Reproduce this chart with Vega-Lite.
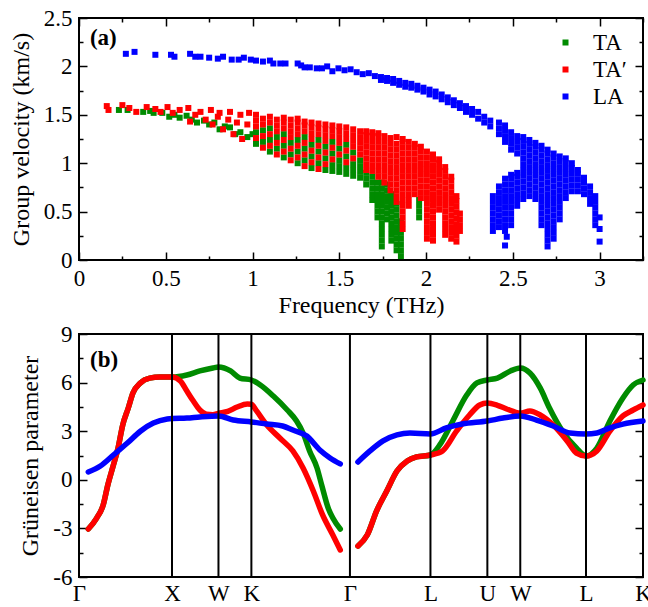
{
"$schema":"https://vega.github.io/schema/vega-lite/v6.json",
"padding":{"left":8,"top":6,"right":0,"bottom":0},
"spacing":4,
"background":"white",
"config":{"font":"Liberation Serif","view":{"stroke":"black","strokeWidth":2},
"axis":{"domain":false,"grid":false,"tickColor":"black","tickWidth":1.5,"labelFont":"Liberation Serif","labelFontSize":23,"labelColor":"black","titleFont":"Liberation Serif","titleFontSize":24,"titleFontWeight":"normal","titleColor":"black","labelFlush":false,"labelOverlap":false},
"legend":{"labelFont":"Liberation Serif"},"text":{"font":"Liberation Serif"}},
"datasets":{
"ta":[
{"f":0.23,"v":1.55},{"f":0.28,"v":1.55},{"f":0.37,"v":1.53},{"f":0.41,"v":1.54},{"f":0.43,"v":1.52},{"f":0.48,"v":1.52},{"f":0.52,"v":1.48},{"f":0.55,"v":1.5},{"f":0.58,"v":1.47},{"f":0.62,"v":1.49},{"f":0.65,"v":1.45},{"f":0.68,"v":1.42},{"f":0.72,"v":1.44},{"f":0.75,"v":1.4},{"f":0.78,"v":1.42},{"f":0.81,"v":1.35},{"f":0.84,"v":1.38},{"f":0.87,"v":1.37},{"f":0.9,"v":1.3},{"f":0.93,"v":1.32},{"f":0.97,"v":1.27},{"f":1,"v":1.3},
{"f":1.02,"v":1.2},{"f":1.02,"v":1.32},
{"f":1.06,"v":1.22},{"f":1.06,"v":1.34},
{"f":1.1,"v":1.12},{"f":1.1,"v":1.24},{"f":1.1,"v":1.36},
{"f":1.14,"v":1.15},{"f":1.14,"v":1.27},
{"f":1.18,"v":1.06},{"f":1.18,"v":1.18},{"f":1.18,"v":1.3},
{"f":1.22,"v":1.09},{"f":1.22,"v":1.21},
{"f":1.26,"v":1.0},{"f":1.26,"v":1.12},{"f":1.26,"v":1.24},
{"f":1.3,"v":1.03},{"f":1.3,"v":1.15},{"f":1.3,"v":1.27},
{"f":1.34,"v":0.95},{"f":1.34,"v":1.07},{"f":1.34,"v":1.19},
{"f":1.38,"v":1.0},{"f":1.38,"v":1.12},{"f":1.38,"v":1.24},
{"f":1.42,"v":0.93},{"f":1.42,"v":1.05},{"f":1.42,"v":1.17},
{"f":1.46,"v":0.92},{"f":1.46,"v":0.98},{"f":1.46,"v":1.1},{"f":1.46,"v":1.22},
{"f":1.5,"v":0.91},{"f":1.5,"v":0.97},{"f":1.5,"v":1.03},{"f":1.5,"v":1.15},
{"f":1.54,"v":0.89},{"f":1.54,"v":0.95},{"f":1.54,"v":1.07},{"f":1.54,"v":1.19},
{"f":1.58,"v":0.87},{"f":1.58,"v":0.93},{"f":1.58,"v":0.99},{"f":1.58,"v":1.11},
{"f":1.62,"v":0.85},{"f":1.62,"v":0.91},{"f":1.62,"v":0.97},{"f":1.62,"v":1.03},
{"f":1.655,"v":0.78},{"f":1.655,"v":0.84},{"f":1.655,"v":0.9},
{"f":1.69,"v":0.62},{"f":1.69,"v":0.68},{"f":1.69,"v":0.74},{"f":1.69,"v":0.8},{"f":1.69,"v":0.86},
{"f":1.72,"v":0.44},{"f":1.72,"v":0.5},{"f":1.72,"v":0.56},{"f":1.72,"v":0.62},{"f":1.72,"v":0.68},{"f":1.72,"v":0.74},{"f":1.72,"v":0.8},
{"f":1.745,"v":0.14},{"f":1.745,"v":0.2},{"f":1.745,"v":0.26},{"f":1.745,"v":0.32},{"f":1.745,"v":0.38},{"f":1.745,"v":0.44},{"f":1.745,"v":0.5},{"f":1.745,"v":0.56},{"f":1.745,"v":0.62},{"f":1.745,"v":0.68},{"f":1.745,"v":0.74},{"f":1.745,"v":0.8},
{"f":1.775,"v":0.42},{"f":1.775,"v":0.48},{"f":1.775,"v":0.54},{"f":1.775,"v":0.6},{"f":1.775,"v":0.66},{"f":1.775,"v":0.72},{"f":1.775,"v":0.78},
{"f":1.8,"v":0.2},{"f":1.8,"v":0.26},{"f":1.8,"v":0.32},{"f":1.8,"v":0.38},{"f":1.8,"v":0.44},{"f":1.8,"v":0.5},{"f":1.8,"v":0.56},{"f":1.8,"v":0.62},{"f":1.8,"v":0.68},
{"f":1.83,"v":0.1},{"f":1.83,"v":0.16},{"f":1.83,"v":0.22},{"f":1.83,"v":0.28},{"f":1.83,"v":0.34},{"f":1.83,"v":0.4},{"f":1.83,"v":0.46},{"f":1.83,"v":0.52},{"f":1.83,"v":0.58},
{"f":1.855,"v":0.04},{"f":1.855,"v":0.1},{"f":1.855,"v":0.16},{"f":1.855,"v":0.22},{"f":1.855,"v":0.28},{"f":1.855,"v":0.34},{"f":1.855,"v":0.4},
{"f":1.96,"v":0.44},{"f":1.96,"v":0.5},{"f":1.96,"v":0.56},{"f":1.96,"v":0.62}
],
"tap":[
{"f":0.16,"v":1.59},{"f":0.17,"v":1.55},{"f":0.25,"v":1.6},{"f":0.29,"v":1.57},{"f":0.33,"v":1.53},{"f":0.39,"v":1.58},{"f":0.44,"v":1.56},{"f":0.47,"v":1.53},{"f":0.51,"v":1.58},{"f":0.54,"v":1.52},{"f":0.58,"v":1.55},{"f":0.63,"v":1.57},{"f":0.64,"v":1.43},{"f":0.67,"v":1.5},{"f":0.7,"v":1.53},{"f":0.73,"v":1.45},{"f":0.76,"v":1.55},{"f":0.77,"v":1.4},{"f":0.8,"v":1.48},{"f":0.81,"v":1.52},{"f":0.83,"v":1.35},{"f":0.86,"v":1.45},{"f":0.87,"v":1.53},{"f":0.89,"v":1.3},{"f":0.91,"v":1.42},{"f":0.93,"v":1.5},{"f":0.94,"v":1.25},{"f":0.97,"v":1.4},{"f":0.98,"v":1.52},
{"f":1.02,"v":1.26},{"f":1.02,"v":1.38},{"f":1.02,"v":1.44},{"f":1.02,"v":1.5},
{"f":1.06,"v":1.16},{"f":1.06,"v":1.28},{"f":1.06,"v":1.4},{"f":1.06,"v":1.46},
{"f":1.1,"v":1.18},{"f":1.1,"v":1.3},{"f":1.1,"v":1.42},{"f":1.1,"v":1.48},
{"f":1.14,"v":1.09},{"f":1.14,"v":1.21},{"f":1.14,"v":1.33},{"f":1.14,"v":1.39},{"f":1.14,"v":1.45},
{"f":1.18,"v":1.12},{"f":1.18,"v":1.24},{"f":1.18,"v":1.36},{"f":1.18,"v":1.42},{"f":1.18,"v":1.47},
{"f":1.22,"v":1.03},{"f":1.22,"v":1.15},{"f":1.22,"v":1.27},{"f":1.22,"v":1.33},{"f":1.22,"v":1.39},{"f":1.22,"v":1.45},
{"f":1.26,"v":1.06},{"f":1.26,"v":1.18},{"f":1.26,"v":1.3},{"f":1.26,"v":1.36},{"f":1.26,"v":1.42},{"f":1.26,"v":1.46},
{"f":1.3,"v":0.97},{"f":1.3,"v":1.09},{"f":1.3,"v":1.21},{"f":1.3,"v":1.33},{"f":1.3,"v":1.39},{"f":1.3,"v":1.43},
{"f":1.34,"v":1.01},{"f":1.34,"v":1.13},{"f":1.34,"v":1.25},{"f":1.34,"v":1.31},{"f":1.34,"v":1.37},{"f":1.34,"v":1.42},
{"f":1.38,"v":0.94},{"f":1.38,"v":1.06},{"f":1.38,"v":1.18},{"f":1.38,"v":1.3},{"f":1.38,"v":1.36},{"f":1.38,"v":1.41},
{"f":1.42,"v":0.99},{"f":1.42,"v":1.11},{"f":1.42,"v":1.23},{"f":1.42,"v":1.29},{"f":1.42,"v":1.35},{"f":1.42,"v":1.4},
{"f":1.46,"v":1.04},{"f":1.46,"v":1.16},{"f":1.46,"v":1.28},{"f":1.46,"v":1.34},{"f":1.46,"v":1.39},
{"f":1.5,"v":1.09},{"f":1.5,"v":1.21},{"f":1.5,"v":1.27},{"f":1.5,"v":1.33},{"f":1.5,"v":1.38},
{"f":1.54,"v":1.01},{"f":1.54,"v":1.13},{"f":1.54,"v":1.25},{"f":1.54,"v":1.31},{"f":1.54,"v":1.37},
{"f":1.58,"v":1.05},{"f":1.58,"v":1.17},{"f":1.58,"v":1.23},{"f":1.58,"v":1.29},{"f":1.58,"v":1.35},
{"f":1.62,"v":1.09},{"f":1.62,"v":1.15},{"f":1.62,"v":1.21},{"f":1.62,"v":1.27},{"f":1.62,"v":1.33},
{"f":1.655,"v":0.93},{"f":1.655,"v":0.99},{"f":1.655,"v":1.05},{"f":1.655,"v":1.11},{"f":1.655,"v":1.17},{"f":1.655,"v":1.23},{"f":1.655,"v":1.29},{"f":1.655,"v":1.33},
{"f":1.69,"v":0.92},{"f":1.69,"v":0.98},{"f":1.69,"v":1.04},{"f":1.69,"v":1.1},{"f":1.69,"v":1.16},{"f":1.69,"v":1.22},{"f":1.69,"v":1.28},{"f":1.69,"v":1.32},
{"f":1.725,"v":0.86},{"f":1.725,"v":0.92},{"f":1.725,"v":0.98},{"f":1.725,"v":1.04},{"f":1.725,"v":1.1},{"f":1.725,"v":1.16},{"f":1.725,"v":1.22},{"f":1.725,"v":1.28},{"f":1.725,"v":1.31},
{"f":1.76,"v":0.8},{"f":1.76,"v":0.86},{"f":1.76,"v":0.92},{"f":1.76,"v":0.98},{"f":1.76,"v":1.04},{"f":1.76,"v":1.1},{"f":1.76,"v":1.16},{"f":1.76,"v":1.22},{"f":1.76,"v":1.28},
{"f":1.795,"v":0.72},{"f":1.795,"v":0.78},{"f":1.795,"v":0.84},{"f":1.795,"v":0.9},{"f":1.795,"v":0.96},{"f":1.795,"v":1.02},{"f":1.795,"v":1.08},{"f":1.795,"v":1.14},{"f":1.795,"v":1.2},{"f":1.795,"v":1.26},
{"f":1.83,"v":0.6},{"f":1.83,"v":0.66},{"f":1.83,"v":0.72},{"f":1.83,"v":0.78},{"f":1.83,"v":0.84},{"f":1.83,"v":0.9},{"f":1.83,"v":0.96},{"f":1.83,"v":1.02},{"f":1.83,"v":1.08},{"f":1.83,"v":1.14},{"f":1.83,"v":1.2},{"f":1.83,"v":1.27},
{"f":1.865,"v":0.32},{"f":1.865,"v":0.38},{"f":1.865,"v":0.44},{"f":1.865,"v":0.5},{"f":1.865,"v":0.56},{"f":1.865,"v":0.62},{"f":1.865,"v":0.68},{"f":1.865,"v":0.74},{"f":1.865,"v":0.8},{"f":1.865,"v":0.86},{"f":1.865,"v":0.92},{"f":1.865,"v":0.98},{"f":1.865,"v":1.04},{"f":1.865,"v":1.1},{"f":1.865,"v":1.16},{"f":1.865,"v":1.22},{"f":1.865,"v":1.25},
{"f":1.9,"v":0.56},{"f":1.9,"v":0.62},{"f":1.9,"v":0.68},{"f":1.9,"v":0.74},{"f":1.9,"v":0.8},{"f":1.9,"v":0.86},{"f":1.9,"v":0.92},{"f":1.9,"v":0.98},{"f":1.9,"v":1.04},{"f":1.9,"v":1.1},{"f":1.9,"v":1.16},{"f":1.9,"v":1.22},
{"f":1.935,"v":0.68},{"f":1.935,"v":0.74},{"f":1.935,"v":0.8},{"f":1.935,"v":0.86},{"f":1.935,"v":0.92},{"f":1.935,"v":0.98},{"f":1.935,"v":1.04},{"f":1.935,"v":1.1},{"f":1.935,"v":1.16},{"f":1.935,"v":1.2},
{"f":1.97,"v":0.64},{"f":1.97,"v":0.7},{"f":1.97,"v":0.76},{"f":1.97,"v":0.82},{"f":1.97,"v":0.88},{"f":1.97,"v":0.94},{"f":1.97,"v":1.0},{"f":1.97,"v":1.06},{"f":1.97,"v":1.12},{"f":1.97,"v":1.17},
{"f":2.005,"v":0.22},{"f":2.005,"v":0.28},{"f":2.005,"v":0.34},{"f":2.005,"v":0.4},{"f":2.005,"v":0.46},{"f":2.005,"v":0.52},{"f":2.005,"v":0.58},{"f":2.005,"v":0.64},{"f":2.005,"v":0.7},{"f":2.005,"v":0.76},{"f":2.005,"v":0.82},{"f":2.005,"v":0.88},{"f":2.005,"v":0.94},{"f":2.005,"v":1.0},{"f":2.005,"v":1.06},{"f":2.005,"v":1.12},
{"f":2.04,"v":0.2},{"f":2.04,"v":0.26},{"f":2.04,"v":0.32},{"f":2.04,"v":0.38},{"f":2.04,"v":0.44},{"f":2.04,"v":0.5},{"f":2.04,"v":0.56},{"f":2.04,"v":0.62},{"f":2.04,"v":0.68},{"f":2.04,"v":0.74},{"f":2.04,"v":0.8},{"f":2.04,"v":0.86},{"f":2.04,"v":0.92},{"f":2.04,"v":0.98},{"f":2.04,"v":1.04},{"f":2.04,"v":1.09},
{"f":2.075,"v":0.52},{"f":2.075,"v":0.58},{"f":2.075,"v":0.64},{"f":2.075,"v":0.7},{"f":2.075,"v":0.76},{"f":2.075,"v":0.82},{"f":2.075,"v":0.88},{"f":2.075,"v":0.94},{"f":2.075,"v":1.0},{"f":2.075,"v":1.04},
{"f":2.11,"v":0.26},{"f":2.11,"v":0.32},{"f":2.11,"v":0.38},{"f":2.11,"v":0.44},{"f":2.11,"v":0.5},{"f":2.11,"v":0.56},{"f":2.11,"v":0.62},{"f":2.11,"v":0.68},{"f":2.11,"v":0.74},{"f":2.11,"v":0.8},{"f":2.11,"v":0.86},{"f":2.11,"v":0.92},{"f":2.11,"v":0.96},
{"f":2.145,"v":0.22},{"f":2.145,"v":0.28},{"f":2.145,"v":0.34},{"f":2.145,"v":0.4},{"f":2.145,"v":0.46},{"f":2.145,"v":0.52},{"f":2.145,"v":0.58},{"f":2.145,"v":0.64},{"f":2.145,"v":0.7},{"f":2.145,"v":0.76},{"f":2.145,"v":0.82},{"f":2.145,"v":0.86},
{"f":2.175,"v":0.19},{"f":2.175,"v":0.25},{"f":2.175,"v":0.31},{"f":2.175,"v":0.37},{"f":2.175,"v":0.43},{"f":2.175,"v":0.49},{"f":2.175,"v":0.55},{"f":2.175,"v":0.61},{"f":2.175,"v":0.66},
{"f":2.195,"v":0.3},{"f":2.195,"v":0.36},{"f":2.195,"v":0.42},{"f":2.195,"v":0.48}
],
"la":[
{"f":0.27,"v":2.13},{"f":0.32,"v":2.15},{"f":0.44,"v":2.12},{"f":0.53,"v":2.12},{"f":0.55,"v":2.1},{"f":0.64,"v":2.13},{"f":0.67,"v":2.1},{"f":0.7,"v":2.1},{"f":0.75,"v":2.09},{"f":0.8,"v":2.08},{"f":0.83,"v":2.1},{"f":0.88,"v":2.07},{"f":0.92,"v":2.07},{"f":0.95,"v":2.09},{"f":0.99,"v":2.07},{"f":1.02,"v":2.06},{"f":1.06,"v":2.05},{"f":1.1,"v":2.06},{"f":1.12,"v":2.03},{"f":1.16,"v":2.03},{"f":1.19,"v":2.03},{"f":1.26,"v":2.03},{"f":1.28,"v":2.01},{"f":1.3,"v":1.99},{"f":1.33,"v":1.99},{"f":1.37,"v":1.98},{"f":1.4,"v":1.98},{"f":1.43,"v":2.0},
{"f":1.46,"v":1.95},{"f":1.495,"v":1.98},{"f":1.53,"v":1.96},{"f":1.565,"v":1.97},{"f":1.6,"v":1.94},{"f":1.635,"v":1.92},{"f":1.67,"v":1.93},{"f":1.705,"v":1.9},
{"f":1.74,"v":1.89},{"f":1.74,"v":1.86},{"f":1.775,"v":1.88},{"f":1.775,"v":1.85},{"f":1.81,"v":1.87},{"f":1.81,"v":1.83},{"f":1.845,"v":1.85},{"f":1.845,"v":1.81},{"f":1.88,"v":1.83},{"f":1.88,"v":1.79},{"f":1.915,"v":1.82},{"f":1.915,"v":1.78},{"f":1.95,"v":1.8},{"f":1.95,"v":1.76},{"f":1.985,"v":1.78},{"f":1.985,"v":1.74},{"f":2.02,"v":1.76},{"f":2.02,"v":1.71},{"f":2.055,"v":1.74},{"f":2.055,"v":1.69},{"f":2.09,"v":1.71},{"f":2.09,"v":1.66},{"f":2.125,"v":1.68},{"f":2.125,"v":1.63},{"f":2.16,"v":1.65},{"f":2.16,"v":1.6},{"f":2.195,"v":1.62},{"f":2.195,"v":1.57},{"f":2.23,"v":1.59},{"f":2.23,"v":1.53},{"f":2.265,"v":1.56},{"f":2.265,"v":1.5},{"f":2.3,"v":1.53},{"f":2.3,"v":1.46},
{"f":2.335,"v":1.42},{"f":2.335,"v":1.48},{"f":2.37,"v":1.38},{"f":2.37,"v":1.44},
{"f":2.385,"v":0.3},{"f":2.385,"v":0.36},{"f":2.385,"v":0.42},{"f":2.385,"v":0.48},{"f":2.385,"v":0.54},{"f":2.385,"v":0.6},{"f":2.385,"v":0.66},
{"f":2.42,"v":0.34},{"f":2.42,"v":0.4},{"f":2.42,"v":0.46},{"f":2.42,"v":0.52},{"f":2.42,"v":0.58},{"f":2.42,"v":0.64},{"f":2.42,"v":0.7},{"f":2.42,"v":0.76},{"f":2.42,"v":1.3},{"f":2.42,"v":1.36},{"f":2.42,"v":1.42},
{"f":2.455,"v":0.15},{"f":2.465,"v":0.24},{"f":2.455,"v":0.3},{"f":2.455,"v":0.36},{"f":2.455,"v":0.42},{"f":2.455,"v":0.48},{"f":2.455,"v":0.54},{"f":2.455,"v":0.6},{"f":2.455,"v":0.66},{"f":2.455,"v":0.72},{"f":2.455,"v":0.78},{"f":2.455,"v":0.84},{"f":2.455,"v":1.22},{"f":2.455,"v":1.28},{"f":2.455,"v":1.34},{"f":2.455,"v":1.39},
{"f":2.49,"v":0.36},{"f":2.49,"v":0.42},{"f":2.49,"v":0.48},{"f":2.49,"v":0.54},{"f":2.49,"v":0.6},{"f":2.49,"v":0.66},{"f":2.49,"v":0.72},{"f":2.49,"v":0.78},{"f":2.49,"v":0.84},{"f":2.49,"v":0.88},{"f":2.49,"v":1.14},{"f":2.49,"v":1.2},{"f":2.49,"v":1.26},{"f":2.49,"v":1.32},
{"f":2.525,"v":0.56},{"f":2.525,"v":0.62},{"f":2.525,"v":0.68},{"f":2.525,"v":0.74},{"f":2.525,"v":0.8},{"f":2.525,"v":0.86},{"f":2.525,"v":0.9},{"f":2.525,"v":1.1},{"f":2.525,"v":1.16},{"f":2.525,"v":1.22},{"f":2.525,"v":1.28},
{"f":2.56,"v":0.63},{"f":2.56,"v":0.69},{"f":2.56,"v":0.75},{"f":2.56,"v":0.81},{"f":2.56,"v":0.87},{"f":2.56,"v":0.93},{"f":2.56,"v":0.99},{"f":2.56,"v":1.05},{"f":2.56,"v":1.11},{"f":2.56,"v":1.17},{"f":2.56,"v":1.23},{"f":2.56,"v":1.27},
{"f":2.595,"v":0.66},{"f":2.595,"v":0.72},{"f":2.595,"v":0.78},{"f":2.595,"v":0.84},{"f":2.595,"v":0.9},{"f":2.595,"v":0.96},{"f":2.595,"v":1.02},{"f":2.595,"v":1.08},{"f":2.595,"v":1.14},{"f":2.595,"v":1.2},{"f":2.595,"v":1.24},
{"f":2.63,"v":0.63},{"f":2.63,"v":0.69},{"f":2.63,"v":0.75},{"f":2.63,"v":0.81},{"f":2.63,"v":0.87},{"f":2.63,"v":0.93},{"f":2.63,"v":0.99},{"f":2.63,"v":1.05},{"f":2.63,"v":1.11},{"f":2.63,"v":1.17},{"f":2.63,"v":1.21},
{"f":2.665,"v":0.36},{"f":2.665,"v":0.42},{"f":2.665,"v":0.48},{"f":2.665,"v":0.54},{"f":2.665,"v":0.6},{"f":2.665,"v":0.66},{"f":2.665,"v":0.72},{"f":2.665,"v":0.78},{"f":2.665,"v":0.84},{"f":2.665,"v":0.9},{"f":2.665,"v":0.96},{"f":2.665,"v":1.02},{"f":2.665,"v":1.08},{"f":2.665,"v":1.14},{"f":2.665,"v":1.18},
{"f":2.7,"v":0.14},{"f":2.7,"v":0.2},{"f":2.7,"v":0.26},{"f":2.7,"v":0.32},{"f":2.7,"v":0.38},{"f":2.7,"v":0.44},{"f":2.7,"v":0.5},{"f":2.7,"v":0.56},{"f":2.7,"v":0.62},{"f":2.7,"v":0.68},{"f":2.7,"v":0.74},{"f":2.7,"v":0.8},{"f":2.7,"v":0.86},{"f":2.7,"v":0.92},{"f":2.7,"v":0.98},{"f":2.7,"v":1.04},{"f":2.7,"v":1.1},{"f":2.7,"v":1.14},
{"f":2.735,"v":0.22},{"f":2.735,"v":0.28},{"f":2.735,"v":0.34},{"f":2.735,"v":0.4},{"f":2.735,"v":0.46},{"f":2.735,"v":0.52},{"f":2.735,"v":0.58},{"f":2.735,"v":0.64},{"f":2.735,"v":0.7},{"f":2.735,"v":0.76},{"f":2.735,"v":0.82},{"f":2.735,"v":0.88},{"f":2.735,"v":0.94},{"f":2.735,"v":1.0},{"f":2.735,"v":1.06},{"f":2.735,"v":1.1},
{"f":2.77,"v":0.42},{"f":2.77,"v":0.48},{"f":2.77,"v":0.54},{"f":2.77,"v":0.6},{"f":2.77,"v":0.66},{"f":2.77,"v":0.72},{"f":2.77,"v":0.78},{"f":2.77,"v":0.84},{"f":2.77,"v":0.9},{"f":2.77,"v":0.96},{"f":2.77,"v":1.02},{"f":2.77,"v":1.07},
{"f":2.805,"v":0.64},{"f":2.805,"v":0.7},{"f":2.805,"v":0.76},{"f":2.805,"v":0.82},{"f":2.805,"v":0.88},{"f":2.805,"v":0.94},{"f":2.805,"v":1.0},{"f":2.805,"v":1.05},
{"f":2.84,"v":0.71},{"f":2.84,"v":0.77},{"f":2.84,"v":0.83},{"f":2.84,"v":0.89},{"f":2.84,"v":0.95},{"f":2.84,"v":1.0},
{"f":2.875,"v":0.71},{"f":2.875,"v":0.77},{"f":2.875,"v":0.83},{"f":2.875,"v":0.89},{"f":2.875,"v":0.93},
{"f":2.91,"v":0.68},{"f":2.91,"v":0.74},{"f":2.91,"v":0.8},{"f":2.91,"v":0.85},
{"f":2.945,"v":0.58},{"f":2.945,"v":0.64},{"f":2.945,"v":0.7},{"f":2.945,"v":0.76},
{"f":2.975,"v":0.36},{"f":2.975,"v":0.42},{"f":2.975,"v":0.48},{"f":2.975,"v":0.54},{"f":2.975,"v":0.6},{"f":2.975,"v":0.66},
{"f":3.0,"v":0.19},{"f":3.0,"v":0.32},{"f":3.0,"v":0.44}
],
"gr":[
{"d":0.1,"g":-3.04,"m":"TA","s":1},{"d":0.19,"g":-2.36,"m":"TA","s":1},{"d":0.26,"g":-1.56,"m":"TA","s":1},{"d":0.31,"g":-0.32,"m":"TA","s":1},{"d":0.37,"g":0.91,"m":"TA","s":1},{"d":0.42,"g":1.96,"m":"TA","s":1},{"d":0.47,"g":3.38,"m":"TA","s":1},{"d":0.53,"g":4.43,"m":"TA","s":1},{"d":0.58,"g":5.36,"m":"TA","s":1},{"d":0.66,"g":5.98,"m":"TA","s":1},{"d":0.76,"g":6.28,"m":"TA","s":1},{"d":0.87,"g":6.35,"m":"TA","s":1},{"d":1.0,"g":6.34,"m":"TA","s":1},{"d":1.16,"g":6.47,"m":"TA","s":1},{"d":1.3,"g":6.72,"m":"TA","s":1},{"d":1.44,"g":6.9,"m":"TA","s":1},{"d":1.5,"g":6.96,"m":"TA","s":1},{"d":1.63,"g":6.72,"m":"TA","s":1},{"d":1.73,"g":6.28,"m":"TA","s":1},{"d":1.854,"g":6.16,"m":"TA","s":1},{"d":1.95,"g":5.85,"m":"TA","s":1},{"d":2.09,"g":5.17,"m":"TA","s":1},{"d":2.24,"g":4.31,"m":"TA","s":1},{"d":2.34,"g":3.63,"m":"TA","s":1},{"d":2.41,"g":2.89,"m":"TA","s":1},{"d":2.48,"g":1.78,"m":"TA","s":1},{"d":2.56,"g":0.73,"m":"TA","s":1},{"d":2.61,"g":-0.32,"m":"TA","s":1},{"d":2.68,"g":-1.74,"m":"TA","s":1},{"d":2.73,"g":-2.36,"m":"TA","s":1},{"d":2.81,"g":-3.04,"m":"TA","s":1},
{"d":3.0,"g":-4.09,"m":"TA","s":2},{"d":3.1,"g":-3.41,"m":"TA","s":2},{"d":3.2,"g":-1.93,"m":"TA","s":2},{"d":3.31,"g":-0.69,"m":"TA","s":2},{"d":3.42,"g":0.54,"m":"TA","s":2},{"d":3.53,"g":1.16,"m":"TA","s":2},{"d":3.63,"g":1.41,"m":"TA","s":2},{"d":3.78,"g":1.53,"m":"TA","s":2},{"d":3.88,"g":2.15,"m":"TA","s":2},{"d":4.02,"g":3.63,"m":"TA","s":2},{"d":4.17,"g":5.23,"m":"TA","s":2},{"d":4.28,"g":5.98,"m":"TA","s":2},{"d":4.392,"g":6.16,"m":"TA","s":2},{"d":4.5,"g":6.28,"m":"TA","s":2},{"d":4.64,"g":6.72,"m":"TA","s":2},{"d":4.746,"g":6.9,"m":"TA","s":2},{"d":4.85,"g":6.59,"m":"TA","s":2},{"d":4.96,"g":5.67,"m":"TA","s":2},{"d":5.06,"g":4.43,"m":"TA","s":2},{"d":5.2,"g":3.0,"m":"TA","s":2},{"d":5.35,"g":1.96,"m":"TA","s":2},{"d":5.453,"g":1.47,"m":"TA","s":2},{"d":5.57,"g":1.96,"m":"TA","s":2},{"d":5.71,"g":3.63,"m":"TA","s":2},{"d":5.85,"g":5.05,"m":"TA","s":2},{"d":5.96,"g":5.85,"m":"TA","s":2},{"d":6.066,"g":6.16,"m":"TA","s":2},
{"d":0.1,"g":-3.04,"m":"TA′","s":1},{"d":0.19,"g":-2.36,"m":"TA′","s":1},{"d":0.26,"g":-1.56,"m":"TA′","s":1},{"d":0.31,"g":-0.32,"m":"TA′","s":1},{"d":0.37,"g":0.91,"m":"TA′","s":1},{"d":0.42,"g":1.96,"m":"TA′","s":1},{"d":0.47,"g":3.38,"m":"TA′","s":1},{"d":0.53,"g":4.43,"m":"TA′","s":1},{"d":0.58,"g":5.36,"m":"TA′","s":1},{"d":0.66,"g":5.98,"m":"TA′","s":1},{"d":0.76,"g":6.28,"m":"TA′","s":1},{"d":0.87,"g":6.35,"m":"TA′","s":1},{"d":1.0,"g":6.34,"m":"TA′","s":1},{"d":1.09,"g":6.1,"m":"TA′","s":1},{"d":1.16,"g":5.48,"m":"TA′","s":1},{"d":1.23,"g":4.86,"m":"TA′","s":1},{"d":1.3,"g":4.31,"m":"TA′","s":1},{"d":1.37,"g":4.05,"m":"TA′","s":1},{"d":1.44,"g":4.02,"m":"TA′","s":1},{"d":1.5,"g":4.1,"m":"TA′","s":1},{"d":1.6,"g":4.22,"m":"TA′","s":1},{"d":1.7,"g":4.49,"m":"TA′","s":1},{"d":1.81,"g":4.68,"m":"TA′","s":1},{"d":1.854,"g":4.66,"m":"TA′","s":1},{"d":1.91,"g":4.25,"m":"TA′","s":1},{"d":2.02,"g":3.38,"m":"TA′","s":1},{"d":2.16,"g":2.58,"m":"TA′","s":1},{"d":2.3,"g":1.78,"m":"TA′","s":1},{"d":2.41,"g":0.73,"m":"TA′","s":1},{"d":2.52,"g":-0.69,"m":"TA′","s":1},{"d":2.62,"g":-2.17,"m":"TA′","s":1},{"d":2.73,"g":-3.41,"m":"TA′","s":1},{"d":2.81,"g":-4.33,"m":"TA′","s":1},
{"d":3.0,"g":-4.09,"m":"TA′","s":2},{"d":3.1,"g":-3.41,"m":"TA′","s":2},{"d":3.2,"g":-1.93,"m":"TA′","s":2},{"d":3.31,"g":-0.69,"m":"TA′","s":2},{"d":3.42,"g":0.54,"m":"TA′","s":2},{"d":3.53,"g":1.16,"m":"TA′","s":2},{"d":3.63,"g":1.41,"m":"TA′","s":2},{"d":3.78,"g":1.53,"m":"TA′","s":2},{"d":3.91,"g":1.78,"m":"TA′","s":2},{"d":4.06,"g":3.0,"m":"TA′","s":2},{"d":4.2,"g":4.0,"m":"TA′","s":2},{"d":4.31,"g":4.62,"m":"TA′","s":2},{"d":4.392,"g":4.74,"m":"TA′","s":2},{"d":4.5,"g":4.6,"m":"TA′","s":2},{"d":4.6,"g":4.37,"m":"TA′","s":2},{"d":4.746,"g":4.12,"m":"TA′","s":2},{"d":4.85,"g":4.25,"m":"TA′","s":2},{"d":4.96,"g":4.0,"m":"TA′","s":2},{"d":5.1,"g":3.38,"m":"TA′","s":2},{"d":5.25,"g":2.4,"m":"TA′","s":2},{"d":5.35,"g":1.65,"m":"TA′","s":2},{"d":5.453,"g":1.47,"m":"TA′","s":2},{"d":5.57,"g":1.78,"m":"TA′","s":2},{"d":5.71,"g":3.0,"m":"TA′","s":2},{"d":5.85,"g":3.94,"m":"TA′","s":2},{"d":5.96,"g":4.31,"m":"TA′","s":2},{"d":6.066,"g":4.62,"m":"TA′","s":2},
{"d":0.1,"g":0.48,"m":"LA","s":1},{"d":0.23,"g":0.85,"m":"LA","s":1},{"d":0.37,"g":1.53,"m":"LA","s":1},{"d":0.52,"g":2.27,"m":"LA","s":1},{"d":0.66,"g":3.0,"m":"LA","s":1},{"d":0.8,"g":3.5,"m":"LA","s":1},{"d":0.95,"g":3.75,"m":"LA","s":1},{"d":1.0,"g":3.78,"m":"LA","s":1},{"d":1.16,"g":3.81,"m":"LA","s":1},{"d":1.3,"g":3.88,"m":"LA","s":1},{"d":1.5,"g":3.94,"m":"LA","s":1},{"d":1.66,"g":3.69,"m":"LA","s":1},{"d":1.854,"g":3.57,"m":"LA","s":1},{"d":2.02,"g":3.44,"m":"LA","s":1},{"d":2.19,"g":3.32,"m":"LA","s":1},{"d":2.3,"g":3.07,"m":"LA","s":1},{"d":2.45,"g":2.7,"m":"LA","s":1},{"d":2.59,"g":1.84,"m":"LA","s":1},{"d":2.7,"g":1.35,"m":"LA","s":1},{"d":2.81,"g":0.98,"m":"LA","s":1},
{"d":3.0,"g":1.1,"m":"LA","s":2},{"d":3.13,"g":1.78,"m":"LA","s":2},{"d":3.27,"g":2.4,"m":"LA","s":2},{"d":3.42,"g":2.77,"m":"LA","s":2},{"d":3.56,"g":2.89,"m":"LA","s":2},{"d":3.78,"g":2.83,"m":"LA","s":2},{"d":3.95,"g":3.2,"m":"LA","s":2},{"d":4.12,"g":3.44,"m":"LA","s":2},{"d":4.392,"g":3.63,"m":"LA","s":2},{"d":4.56,"g":3.81,"m":"LA","s":2},{"d":4.746,"g":3.94,"m":"LA","s":2},{"d":4.92,"g":3.69,"m":"LA","s":2},{"d":5.1,"g":3.32,"m":"LA","s":2},{"d":5.28,"g":2.89,"m":"LA","s":2},{"d":5.453,"g":2.83,"m":"LA","s":2},{"d":5.57,"g":2.89,"m":"LA","s":2},{"d":5.71,"g":3.2,"m":"LA","s":2},{"d":5.85,"g":3.44,"m":"LA","s":2},{"d":6.066,"g":3.63,"m":"LA","s":2}
],
"hs":[{"d":1},{"d":1.5},{"d":1.854},{"d":2.914},{"d":3.78},{"d":4.392},{"d":4.746},{"d":5.453}]
},
"vconcat":[
{
"width":564,"height":242,
"layer":[
{"data":{"name":"ta"},"mark":{"type":"square","size":36,"opacity":1,"filled":true},
"encoding":{
"x":{"field":"f","type":"quantitative","scale":{"domain":[0,3.25],"nice":false,"zero":false},"axis":{"orient":"bottom","values":[0,0.5,1,1.5,2,2.5,3],"tickSize":-8,"labelPadding":15,"labelFont":"Liberation Serif","titleFont":"Liberation Serif","labelExpr":"''+datum.value","title":"Frequency (THz)","titlePadding":3}},
"y":{"field":"v","type":"quantitative","scale":{"domain":[0,2.5],"nice":false,"zero":false},"axis":{"orient":"left","values":[0,0.5,1,1.5,2,2.5],"tickSize":-8,"labelPadding":15,"labelFont":"Liberation Serif","titleFont":"Liberation Serif","labelExpr":"''+datum.value","title":"Group velocity (km/s)","titlePadding":10}},
"color":{"datum":"TA","type":"nominal","scale":{"domain":["TA","TA′","LA"],"range":["#008b00","#ff0000","#0000ff"]},
"legend":{"title":null,"orient":"none","legendX":475,"legendY":13,"symbolType":"square","symbolSize":36,"labelFont":"Liberation Serif","labelFontSize":23,"labelColor":"black","labelOffset":16,"rowPadding":3,"symbolStrokeWidth":0}}}},
{"data":{"name":"tap"},"mark":{"type":"square","size":36,"opacity":1,"filled":true},
"encoding":{
"x":{"field":"f","type":"quantitative","axis":{"orient":"bottom","values":[0.25,0.75,1.25,1.75,2.25,2.75,3.25],"tickSize":-4,"labels":false,"title":null}},
"y":{"field":"v","type":"quantitative","axis":{"orient":"left","values":[0.25,0.75,1.25,1.75,2.25],"tickSize":-4,"labels":false,"title":null}},
"color":{"datum":"TA′","type":"nominal"}}},
{"data":{"name":"la"},"mark":{"type":"square","size":36,"opacity":1,"filled":true},
"encoding":{
"x":{"field":"f","type":"quantitative","axis":{"orient":"top","values":[0,0.5,1,1.5,2,2.5,3],"tickSize":-8,"labels":false,"title":null}},
"y":{"field":"v","type":"quantitative","axis":{"orient":"right","values":[0,0.5,1,1.5,2,2.5],"tickSize":-8,"labels":false,"title":null}},
"color":{"datum":"LA","type":"nominal"}}},
{"data":{"values":[{"f":0.14,"v":2.29,"t":"(a)"}]},"mark":{"type":"text","font":"Liberation Serif","fontSize":23,"fontWeight":"bold","color":"black"},
"encoding":{
"x":{"field":"f","type":"quantitative","axis":{"orient":"top","values":[0.25,0.75,1.25,1.75,2.25,2.75,3.25],"tickSize":-4,"labels":false,"title":null}},
"y":{"field":"v","type":"quantitative","axis":{"orient":"right","values":[0.25,0.75,1.25,1.75,2.25],"tickSize":-4,"labels":false,"title":null}},
"text":{"field":"t"}}}
],
"resolve":{"axis":{"x":"independent","y":"independent"}}
},
{
"width":564,"height":243,
"layer":[
{"data":{"name":"gr"},"transform":[{"filter":"datum.m==='TA'"}],"mark":{"type":"line","strokeWidth":5.5,"strokeCap":"round","strokeJoin":"round","interpolate":"monotone","color":"#008b00"},
"encoding":{
"x":{"field":"d","type":"quantitative","scale":{"domain":[0,6.066],"nice":false,"zero":false},"axis":{"orient":"bottom","values":[0,1,1.5,1.854,2.914,3.78,4.392,4.746,5.453,6.066],"ticks":false,"labelPadding":5,"labelFont":"Liberation Serif","labelExpr":"datum.value < 0.5 ? 'Γ' : datum.value < 1.2 ? 'X' : datum.value < 1.7 ? 'W' : datum.value < 2.5 ? 'K' : datum.value < 3.3 ? 'Γ' : datum.value < 4.1 ? 'L' : datum.value < 4.5 ? 'U' : datum.value < 5 ? 'W' : datum.value < 6 ? 'L' : 'K'","title":null}},
"y":{"field":"g","type":"quantitative","scale":{"domain":[-6,9],"nice":false,"zero":false},"axis":{"orient":"left","values":[-6,-3,0,3,6,9],"tickSize":-8,"labelPadding":15,"labelFont":"Liberation Serif","titleFont":"Liberation Serif","labelExpr":"''+datum.value","title":"Grüneisen parameter","titlePadding":10}},
"detail":{"field":"s"}}},
{"data":{"name":"gr"},"transform":[{"filter":"datum.m==='TA′'"}],"mark":{"type":"line","strokeWidth":5.5,"strokeCap":"round","strokeJoin":"round","interpolate":"monotone","color":"#ff0000"},
"encoding":{
"x":{"field":"d","type":"quantitative","axis":null},
"y":{"field":"g","type":"quantitative","axis":{"orient":"left","values":[-4.5,-1.5,1.5,4.5,7.5],"tickSize":-4,"labels":false,"title":null}},
"detail":{"field":"s"}}},
{"data":{"name":"gr"},"transform":[{"filter":"datum.m==='LA'"}],"mark":{"type":"line","strokeWidth":5.5,"strokeCap":"round","strokeJoin":"round","interpolate":"monotone","color":"#0000ff"},
"encoding":{
"x":{"field":"d","type":"quantitative","axis":null},
"y":{"field":"g","type":"quantitative","axis":{"orient":"right","values":[-6,-3,0,3,6,9],"tickSize":-8,"labels":false,"title":null}},
"detail":{"field":"s"}}},
{"data":{"name":"hs"},"mark":{"type":"rule","color":"black","strokeWidth":2},
"encoding":{"x":{"field":"d","type":"quantitative","axis":null}}},
{"data":{"values":[{"d":0.27,"g":7.4,"t":"(b)"}]},"mark":{"type":"text","font":"Liberation Serif","fontSize":23,"fontWeight":"bold","color":"black"},
"encoding":{
"x":{"field":"d","type":"quantitative","axis":null},
"y":{"field":"g","type":"quantitative","axis":{"orient":"right","values":[-4.5,-1.5,1.5,4.5,7.5],"tickSize":-4,"labels":false,"title":null}},
"text":{"field":"t"}}}
],
"resolve":{"axis":{"x":"independent","y":"independent"}}
}
]
}
